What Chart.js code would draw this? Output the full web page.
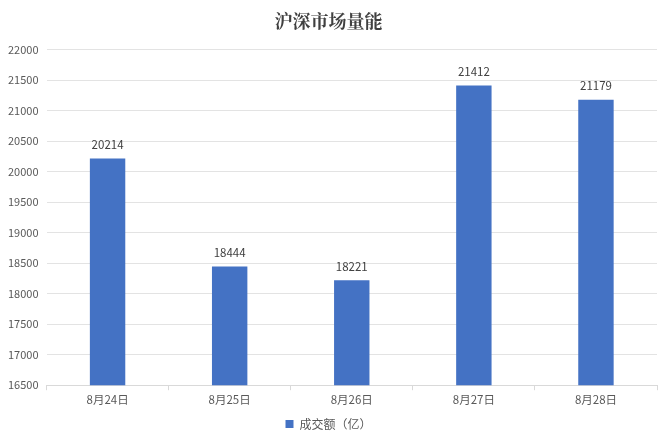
<!DOCTYPE html>
<html>
<head>
<meta charset="utf-8">
<script src="https://cdn.jsdelivr.net/npm/chart.js@4/dist/chart.umd.min.js"></script>
<style>
  html, body { margin: 0; padding: 0; background: #fff; }
  #wrap { width: 669px; height: 444px; position: relative; }
</style>
</head>
<body>
<div id="wrap"><canvas id="volume"></canvas></div>
<script>
const dates = ['8月24日', '8月25日', '8月26日', '8月27日', '8月28日'];
const turnover = [20214, 18444, 18221, 21412, 21179];
const seriesName = '成交额（亿）';
const chartTitle = '沪深市场量能';

const FONT = '"Noto Sans CJK SC", "Noto Sans", sans-serif';
const TXT = '#595959';

// value labels above each bar
const barLabels = {
  id: 'barLabels',
  afterDatasetsDraw(chart) {
    const ctx = chart.ctx;
    const meta = chart.getDatasetMeta(0);
    ctx.save();
    ctx.font = '11.5px ' + FONT;
    ctx.fillStyle = '#404040';
    ctx.textAlign = 'center';
    ctx.textBaseline = 'bottom';
    meta.data.forEach((bar, i) => {
      ctx.fillText(String(turnover[i]), bar.x, bar.y - 8);
    });
    ctx.restore();
  }
};

new Chart(document.getElementById('volume'), {
  type: 'bar',
  data: {
    labels: dates,
    datasets: [{
      label: seriesName,
      data: turnover,
      backgroundColor: '#4472C4',
      borderWidth: 0,
      barPercentage: 0.58,
      categoryPercentage: 0.5
    }]
  },
  options: {
    responsive: true,
    maintainAspectRatio: false,
    animation: false,
    layout: { padding: { left: 0, right: 12, top: 4, bottom: 4 } },
    plugins: {
      title: {
        display: true,
        text: chartTitle,
        color: '#404040',
        font: { family: '"Noto Serif CJK SC", "DejaVu Serif", ' + FONT, size: 18, weight: 'bold' },
        padding: { top: 6, bottom: 18 }
      },
      legend: {
        position: 'bottom',
        labels: {
          color: TXT,
          font: { family: FONT, size: 12 },
          boxWidth: 8,
          boxHeight: 8,
          padding: 8
        }
      },
      tooltip: { enabled: false }
    },
    scales: {
      x: {
        grid: { offset: true, drawOnChartArea: false, drawTicks: true, tickLength: 5, color: '#d9d9d9' },
        border: { color: '#d9d9d9' },
        ticks: { color: TXT, font: { family: FONT, size: 11.5 }, padding: 3 }
      },
      y: {
        min: 16500,
        max: 22000,
        ticks: {
          stepSize: 500,
          color: TXT,
          font: { family: FONT, size: 11 },
          padding: 8,
          callback: v => String(v)
        },
        grid: { color: '#e3e3e3', drawTicks: false },
        border: { display: false }
      }
    }
  },
  plugins: [barLabels]
});
</script>
</body>
</html>
